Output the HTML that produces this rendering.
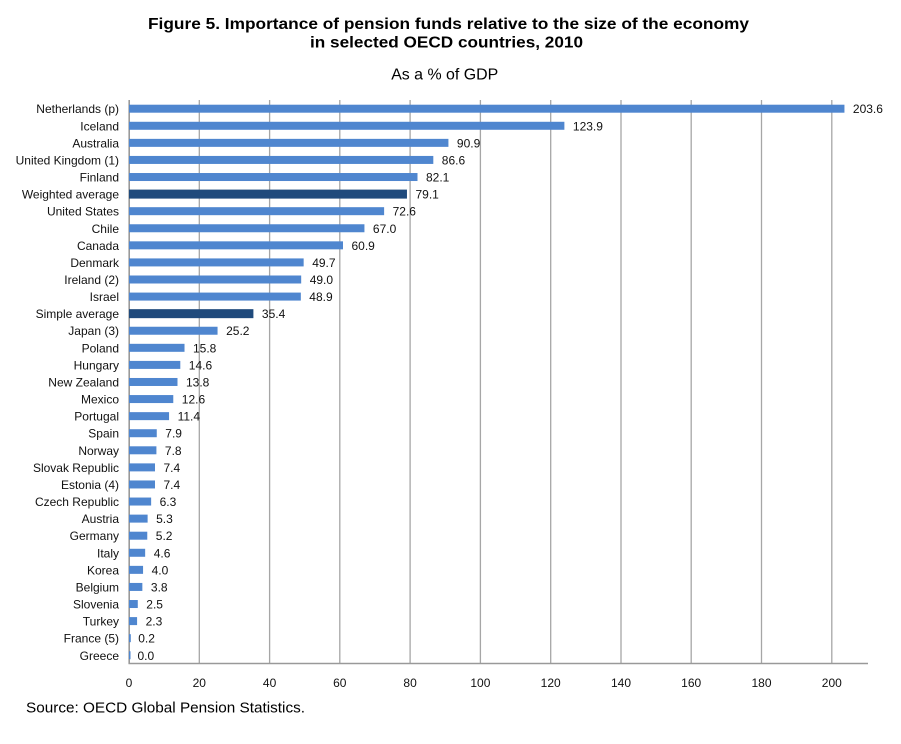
<!DOCTYPE html>
<html><head><meta charset="utf-8"><style>
html,body{margin:0;padding:0;background:#fff;}
svg{display:block;}
text{font-family:"Liberation Sans",Arial,sans-serif;}
.c{font-size:12px;fill:#111;text-anchor:end;}
.v{font-size:12px;fill:#111;}
.t{font-size:12px;fill:#111;text-anchor:middle;}
.b{fill:#4f86cf;}
.d{fill:#1f4a7c;}
.g{stroke:#a6a6a6;stroke-width:1.3;}
</style></head><body>
<svg width="901" height="744" viewBox="0 0 901 744" xmlns="http://www.w3.org/2000/svg">
<rect width="901" height="744" fill="#fff"/>
<text x="448.5" y="29" text-anchor="middle" font-size="16" font-weight="bold" fill="#000" textLength="601" lengthAdjust="spacingAndGlyphs">Figure 5. Importance of pension funds relative to the size of the economy</text>
<text x="446.5" y="47.5" text-anchor="middle" font-size="16" font-weight="bold" fill="#000" textLength="273" lengthAdjust="spacingAndGlyphs">in selected OECD countries, 2010</text>
<text x="444.7" y="79.3" text-anchor="middle" font-size="16" fill="#000" textLength="107" lengthAdjust="spacingAndGlyphs">As a % of GDP</text>

<g class="g">
<line x1="199.3" y1="100" x2="199.3" y2="663.5"/>
<line x1="269.6" y1="100" x2="269.6" y2="663.5"/>
<line x1="339.8" y1="100" x2="339.8" y2="663.5"/>
<line x1="410.1" y1="100" x2="410.1" y2="663.5"/>
<line x1="480.4" y1="100" x2="480.4" y2="663.5"/>
<line x1="550.7" y1="100" x2="550.7" y2="663.5"/>
<line x1="621.0" y1="100" x2="621.0" y2="663.5"/>
<line x1="691.2" y1="100" x2="691.2" y2="663.5"/>
<line x1="761.5" y1="100" x2="761.5" y2="663.5"/>
<line x1="831.8" y1="100" x2="831.8" y2="663.5"/>
</g>
<line x1="129.2" y1="100" x2="129.2" y2="664" stroke="#999" stroke-width="1.6"/>
<line x1="128.5" y1="663.5" x2="868" y2="663.5" stroke="#999" stroke-width="1.4"/>

<g transform="translate(0,108.70)"><text class="c" x="119" y="4.5">Netherlands (p)</text><rect class="b" x="129" y="-4" width="715.45" height="8"/><text class="v" x="852.9" y="4.5">203.6</text></g>
<g transform="translate(0,125.78)"><text class="c" x="119" y="4.5">Iceland</text><rect class="b" x="129" y="-4" width="435.38" height="8"/><text class="v" x="572.9" y="4.5">123.9</text></g>
<g transform="translate(0,142.86)"><text class="c" x="119" y="4.5">Australia</text><rect class="b" x="129" y="-4" width="319.42" height="8"/><text class="v" x="456.9" y="4.5">90.9</text></g>
<g transform="translate(0,159.94)"><text class="c" x="119" y="4.5">United Kingdom (1)</text><rect class="b" x="129" y="-4" width="304.31" height="8"/><text class="v" x="441.8" y="4.5">86.6</text></g>
<g transform="translate(0,177.02)"><text class="c" x="119" y="4.5">Finland</text><rect class="b" x="129" y="-4" width="288.50" height="8"/><text class="v" x="426.0" y="4.5">82.1</text></g>
<g transform="translate(0,194.10)"><text class="c" x="119" y="4.5">Weighted average</text><rect class="d" x="129" y="-4.5" width="277.96" height="9"/><text class="v" x="415.5" y="4.5">79.1</text></g>
<g transform="translate(0,211.18)"><text class="c" x="119" y="4.5">United States</text><rect class="b" x="129" y="-4" width="255.12" height="8"/><text class="v" x="392.6" y="4.5">72.6</text></g>
<g transform="translate(0,228.26)"><text class="c" x="119" y="4.5">Chile</text><rect class="b" x="129" y="-4" width="235.44" height="8"/><text class="v" x="372.9" y="4.5">67.0</text></g>
<g transform="translate(0,245.34)"><text class="c" x="119" y="4.5">Canada</text><rect class="b" x="129" y="-4" width="214.00" height="8"/><text class="v" x="351.5" y="4.5">60.9</text></g>
<g transform="translate(0,262.42)"><text class="c" x="119" y="4.5">Denmark</text><rect class="b" x="129" y="-4" width="174.65" height="8"/><text class="v" x="312.2" y="4.5">49.7</text></g>
<g transform="translate(0,279.50)"><text class="c" x="119" y="4.5">Ireland (2)</text><rect class="b" x="129" y="-4" width="172.19" height="8"/><text class="v" x="309.7" y="4.5">49.0</text></g>
<g transform="translate(0,296.58)"><text class="c" x="119" y="4.5">Israel</text><rect class="b" x="129" y="-4" width="171.83" height="8"/><text class="v" x="309.3" y="4.5">48.9</text></g>
<g transform="translate(0,313.66)"><text class="c" x="119" y="4.5">Simple average</text><rect class="d" x="129" y="-4.5" width="124.40" height="9"/><text class="v" x="261.9" y="4.5">35.4</text></g>
<g transform="translate(0,330.74)"><text class="c" x="119" y="4.5">Japan (3)</text><rect class="b" x="129" y="-4" width="88.55" height="8"/><text class="v" x="226.1" y="4.5">25.2</text></g>
<g transform="translate(0,347.82)"><text class="c" x="119" y="4.5">Poland</text><rect class="b" x="129" y="-4" width="55.52" height="8"/><text class="v" x="193.0" y="4.5">15.8</text></g>
<g transform="translate(0,364.90)"><text class="c" x="119" y="4.5">Hungary</text><rect class="b" x="129" y="-4" width="51.30" height="8"/><text class="v" x="188.8" y="4.5">14.6</text></g>
<g transform="translate(0,381.98)"><text class="c" x="119" y="4.5">New Zealand</text><rect class="b" x="129" y="-4" width="48.49" height="8"/><text class="v" x="186.0" y="4.5">13.8</text></g>
<g transform="translate(0,399.06)"><text class="c" x="119" y="4.5">Mexico</text><rect class="b" x="129" y="-4" width="44.28" height="8"/><text class="v" x="181.8" y="4.5">12.6</text></g>
<g transform="translate(0,416.14)"><text class="c" x="119" y="4.5">Portugal</text><rect class="b" x="129" y="-4" width="40.06" height="8"/><text class="v" x="177.6" y="4.5">11.4</text></g>
<g transform="translate(0,433.22)"><text class="c" x="119" y="4.5">Spain</text><rect class="b" x="129" y="-4" width="27.76" height="8"/><text class="v" x="165.3" y="4.5">7.9</text></g>
<g transform="translate(0,450.30)"><text class="c" x="119" y="4.5">Norway</text><rect class="b" x="129" y="-4" width="27.41" height="8"/><text class="v" x="164.9" y="4.5">7.8</text></g>
<g transform="translate(0,467.38)"><text class="c" x="119" y="4.5">Slovak Republic</text><rect class="b" x="129" y="-4" width="26.00" height="8"/><text class="v" x="163.5" y="4.5">7.4</text></g>
<g transform="translate(0,484.46)"><text class="c" x="119" y="4.5">Estonia (4)</text><rect class="b" x="129" y="-4" width="26.00" height="8"/><text class="v" x="163.5" y="4.5">7.4</text></g>
<g transform="translate(0,501.54)"><text class="c" x="119" y="4.5">Czech Republic</text><rect class="b" x="129" y="-4" width="22.14" height="8"/><text class="v" x="159.6" y="4.5">6.3</text></g>
<g transform="translate(0,518.62)"><text class="c" x="119" y="4.5">Austria</text><rect class="b" x="129" y="-4" width="18.62" height="8"/><text class="v" x="156.1" y="4.5">5.3</text></g>
<g transform="translate(0,535.70)"><text class="c" x="119" y="4.5">Germany</text><rect class="b" x="129" y="-4" width="18.27" height="8"/><text class="v" x="155.8" y="4.5">5.2</text></g>
<g transform="translate(0,552.78)"><text class="c" x="119" y="4.5">Italy</text><rect class="b" x="129" y="-4" width="16.16" height="8"/><text class="v" x="153.7" y="4.5">4.6</text></g>
<g transform="translate(0,569.86)"><text class="c" x="119" y="4.5">Korea</text><rect class="b" x="129" y="-4" width="14.06" height="8"/><text class="v" x="151.6" y="4.5">4.0</text></g>
<g transform="translate(0,586.94)"><text class="c" x="119" y="4.5">Belgium</text><rect class="b" x="129" y="-4" width="13.35" height="8"/><text class="v" x="150.9" y="4.5">3.8</text></g>
<g transform="translate(0,604.02)"><text class="c" x="119" y="4.5">Slovenia</text><rect class="b" x="129" y="-4" width="8.79" height="8"/><text class="v" x="146.3" y="4.5">2.5</text></g>
<g transform="translate(0,621.10)"><text class="c" x="119" y="4.5">Turkey</text><rect class="b" x="129" y="-4" width="8.08" height="8"/><text class="v" x="145.6" y="4.5">2.3</text></g>
<g transform="translate(0,638.18)"><text class="c" x="119" y="4.5">France (5)</text><rect class="b" x="129" y="-4" width="1.8" height="8"/><text class="v" x="138.2" y="4.5">0.2</text></g>
<g transform="translate(0,655.26)"><text class="c" x="119" y="4.5">Greece</text><rect class="b" x="129" y="-4" width="1.5" height="8"/><text class="v" x="137.5" y="4.5">0.0</text></g>

<text class="t" x="129.0" y="687">0</text>
<text class="t" x="199.3" y="687">20</text>
<text class="t" x="269.6" y="687">40</text>
<text class="t" x="339.8" y="687">60</text>
<text class="t" x="410.1" y="687">80</text>
<text class="t" x="480.4" y="687">100</text>
<text class="t" x="550.7" y="687">120</text>
<text class="t" x="621.0" y="687">140</text>
<text class="t" x="691.2" y="687">160</text>
<text class="t" x="761.5" y="687">180</text>
<text class="t" x="831.8" y="687">200</text>

<text x="26" y="712.5" font-size="15" fill="#000" textLength="279" lengthAdjust="spacingAndGlyphs">Source: OECD Global Pension Statistics.</text>
</svg>
</body></html>
